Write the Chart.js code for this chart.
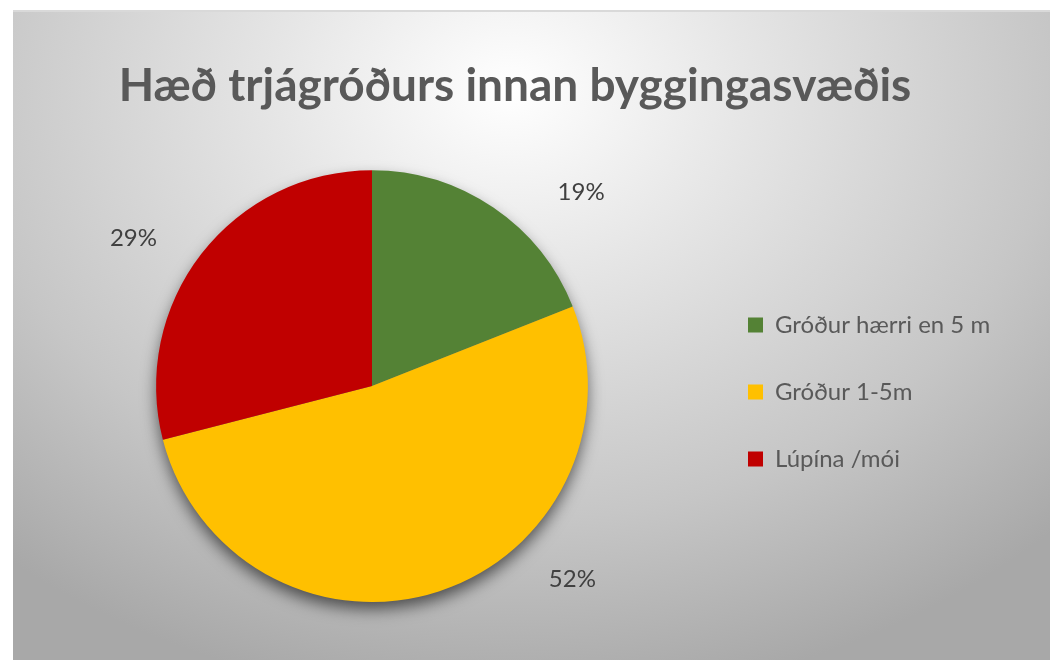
<!DOCTYPE html>
<html>
<head>
<meta charset="utf-8">
<script src="https://cdn.jsdelivr.net/npm/chart.js@4/dist/chart.umd.min.js"></script>
<style>
  html, body { margin: 0; padding: 0; background: #ffffff; }
  #wrap { position: relative; width: 1050px; height: 660px; overflow: hidden; }
  #bg {
    position: absolute; left: 13px; top: 10px; width: 1037px; height: 650px;
    border-top: 2px solid #d9d9d9; box-sizing: border-box;
    background: radial-gradient(ellipse 75% 95% at 48% 12%, #ffffff 0%, #e6e6e6 30%, #c6c6c6 70%, #a8a8a8 100%);
  }
  #chart { position: absolute; left: 0; top: 0; }
</style>
</head>
<body>
<div id="wrap">
  <div id="bg"></div>
  <canvas id="chart" width="1050" height="660"></canvas>
</div>
<script>
var titleText = "Hæð trjágróðurs innan byggingasvæðis";
var categories = ["Gróður hærri en 5 m", "Gróður 1-5m", "Lúpína /mói"];
var shares = [19, 52, 29];
var colors = ["#548235", "#ffc000", "#c00000"];

// where each percent label sits, relative to the slice middle (degrees, radius factor)
var labelShift = [13, -28, -6];
var labelDist = [1.32, 1.29, 1.30];

var pieShadow = {
  id: "pieShadow",
  beforeDatasetsDraw: function(chart) {
    var arc = chart.getDatasetMeta(0).data[0];
    if (!arc) return;
    var ctx = chart.ctx;
    ctx.save();
    ctx.shadowColor = "rgba(0,0,0,0.6)";
    ctx.shadowBlur = 16;
    ctx.shadowOffsetY = 8;
    ctx.fillStyle = "#777777";
    ctx.beginPath();
    ctx.arc(arc.x, arc.y, arc.outerRadius - 1, 0, Math.PI * 2);
    ctx.fill();
    ctx.restore();
  }
};

var pctLabels = {
  id: "pctLabels",
  afterDatasetsDraw: function(chart) {
    var ctx = chart.ctx;
    var meta = chart.getDatasetMeta(0);
    var total = shares.reduce(function(a, b) { return a + b; }, 0);
    ctx.save();
    ctx.font = "24px Lato";
    ctx.fillStyle = "#404040";
    ctx.textAlign = "center";
    ctx.textBaseline = "middle";
    meta.data.forEach(function(arc, i) {
      var mid = (arc.startAngle + arc.endAngle) / 2 + labelShift[i] * Math.PI / 180;
      var r = arc.outerRadius * labelDist[i];
      var txt = Math.round(shares[i] / total * 100) + "%";
      ctx.fillText(txt, arc.x + Math.cos(mid) * r, arc.y + Math.sin(mid) * r);
    });
    ctx.restore();
  }
};

var legendNudge = {
  id: "legendNudge",
  afterLayout: function(chart) {
    chart.legend.top += 6;
    chart.legend.bottom += 6;
  }
};

var ctx = document.getElementById("chart").getContext("2d");
var pie = new Chart(ctx, {
  type: "pie",
  data: {
    labels: categories,
    datasets: [{
      data: shares,
      backgroundColor: colors,
      borderWidth: 0
    }]
  },
  options: {
    responsive: false,
    animation: false,
    layout: { padding: { left: 39, right: 59, top: 14, bottom: 58 } },
    plugins: {
      title: {
        display: true,
        text: titleText,
        color: "#595959",
        font: { family: "Lato", size: 46, weight: "bold", lineHeight: 1.2 },
        padding: { top: 45, bottom: 56 }
      },
      legend: {
        position: "right",
        fullSize: false,
        maxWidth: 286,
        labels: {
          boxWidth: 15,
          boxHeight: 15,
          padding: 43,
          color: "#595959",
          font: { family: "Lato", size: 24 }
        }
      },
      tooltip: { enabled: false }
    }
  },
  plugins: [pieShadow, pctLabels, legendNudge]
});
</script>
</body>
</html>
